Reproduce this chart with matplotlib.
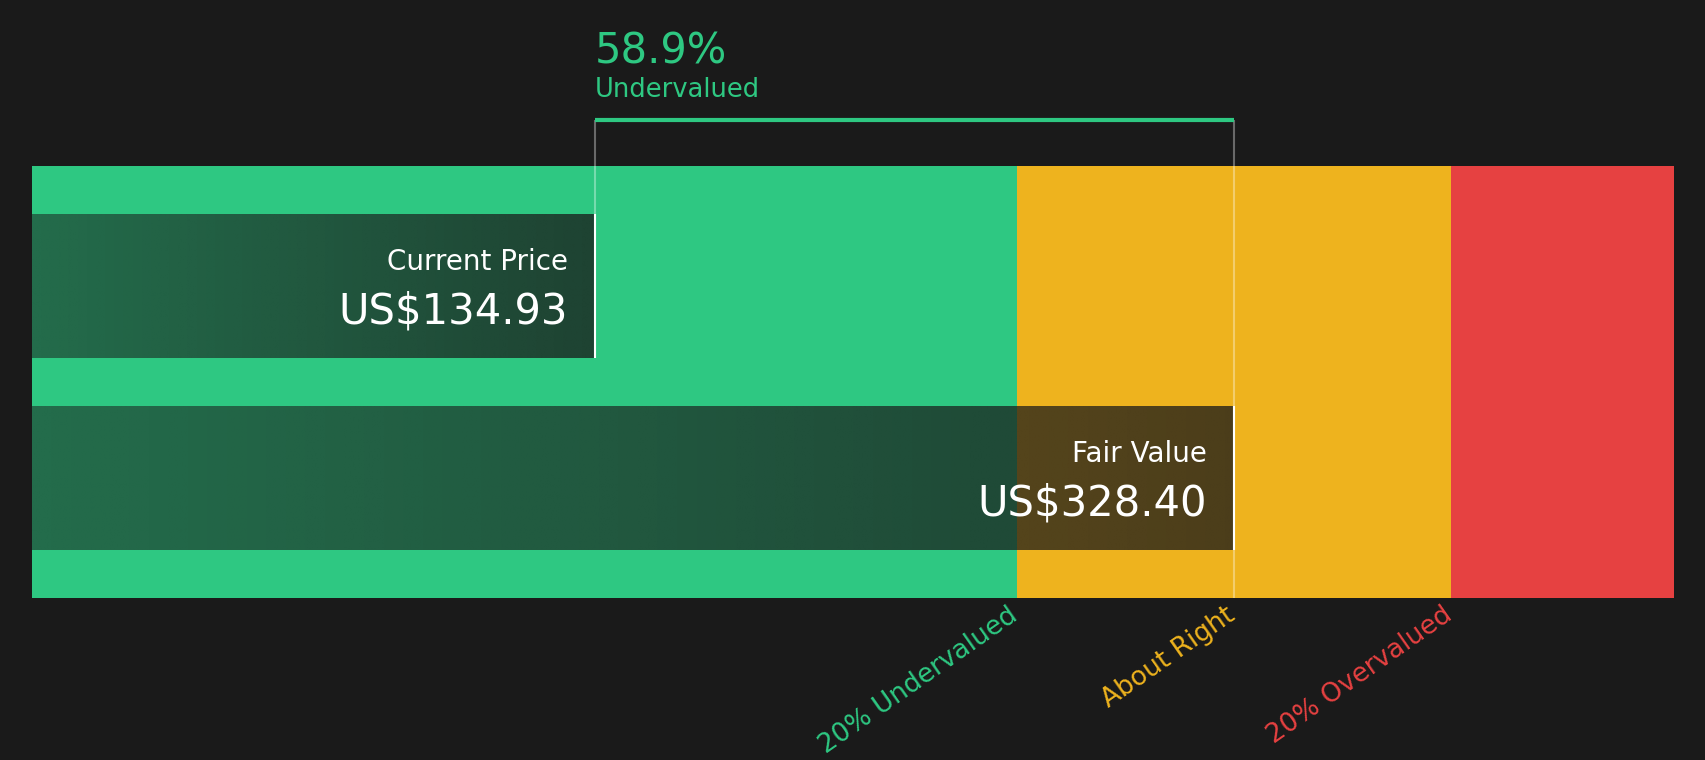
import numpy as np
import matplotlib
matplotlib.use("Agg")
import matplotlib.pyplot as plt

# values
current_price = 134.93
fair_value = 328.40
bar_labels = ["Current Price", "Fair Value"]
bar_values = [current_price, fair_value]
zone_edges = [0.8, 1.2]  # multiples of fair value
zone_labels = ["20% Undervalued", "About Right", "20% Overvalued"]
zone_label_at = [0.8, 1.0, 1.2]  # multiples of fair value
zone_colors = ["#2ec882", "#eeb31e", "#e64141"]

BG = "#1a1a1a"
X_MIN, X_MAX = -35.4, 461.6

# vertical layout (pixel-like units, y grows downwards)
BAND_TOP, BAND_BOT = 166, 598
ROW_CENTERS = [286, 478]
ROW_H = 144
TOP_LINE_Y = 120


def main():
    plt.rcParams["font.family"] = ["DejaVu Sans"]

    fig = plt.figure(figsize=(17.06, 7.6), dpi=100, facecolor=BG)
    ax = fig.add_axes([32 / 1706, 0, (1674 - 32) / 1706, 1])
    ax.set_facecolor(BG)
    ax.axis("off")

    # valuation zones
    edges = [X_MIN] + [m * fair_value for m in zone_edges] + [X_MAX]
    for i, col in enumerate(zone_colors):
        ax.barh((BAND_TOP + BAND_BOT) / 2, edges[i + 1] - edges[i], left=edges[i],
                height=BAND_BOT - BAND_TOP, color=col, linewidth=0, zorder=1)

    # dark gradient bars
    n = 256
    for val, yc in zip(bar_values, ROW_CENTERS):
        rgba = np.zeros((1, n, 4))
        rgba[..., :3] = 26 / 255
        rgba[0, :, 3] = np.linspace(0.53, 0.77, n)
        top, bot = yc - ROW_H / 2, yc + ROW_H / 2
        ax.imshow(rgba, extent=(X_MIN, val, bot, top), aspect="auto",
                  interpolation="bilinear", zorder=2)
        ax.vlines(val, top, bot, color="white", lw=1.5, zorder=4)

    # connector lines and difference bracket
    cp_top = ROW_CENTERS[0] - ROW_H / 2
    ax.vlines(current_price, TOP_LINE_Y, cp_top, color="white", alpha=0.35, lw=1.5, zorder=3)
    ax.vlines(fair_value, TOP_LINE_Y, BAND_BOT, color="white", alpha=0.35, lw=1.5, zorder=3)
    ax.hlines(TOP_LINE_Y, current_price, fair_value, color=zone_colors[0], lw=3, zorder=4)

    pct = (fair_value - current_price) / fair_value * 100
    ax.text(current_price, 63, f"{pct:.1f}%", color=zone_colors[0], fontsize=30,
            ha="left", va="baseline", zorder=5)
    ax.text(current_price, 97, "Undervalued", color=zone_colors[0], fontsize=18.5,
            ha="left", va="baseline", zorder=5)

    # bar labels
    for lab, val, yc in zip(bar_labels, bar_values, ROW_CENTERS):
        ax.annotate(lab, xy=(val, yc - 16), xytext=(-27, 0), textcoords="offset pixels",
                    ha="right", va="baseline", color="white", fontsize=20, zorder=5)
        ax.annotate(f"US${val:.2f}", xy=(val, yc + 37), xytext=(-27, 0),
                    textcoords="offset pixels", ha="right", va="baseline",
                    color="white", fontsize=30, zorder=5)

    # zone labels under the band
    for lab, m, col in zip(zone_labels, zone_label_at, zone_colors):
        ax.annotate(lab, xy=(m * fair_value, BAND_BOT + 4), xytext=(-9, 0),
                    textcoords="offset pixels", color=col, fontsize=19, rotation=35,
                    rotation_mode="anchor", ha="right", va="top", zorder=5)

    ax.set_xlim(X_MIN, X_MAX)
    ax.set_ylim(760, 0)

    fig.savefig("out.png", dpi=100, facecolor=BG)
    plt.close(fig)


if __name__ == "__main__":
    main()
